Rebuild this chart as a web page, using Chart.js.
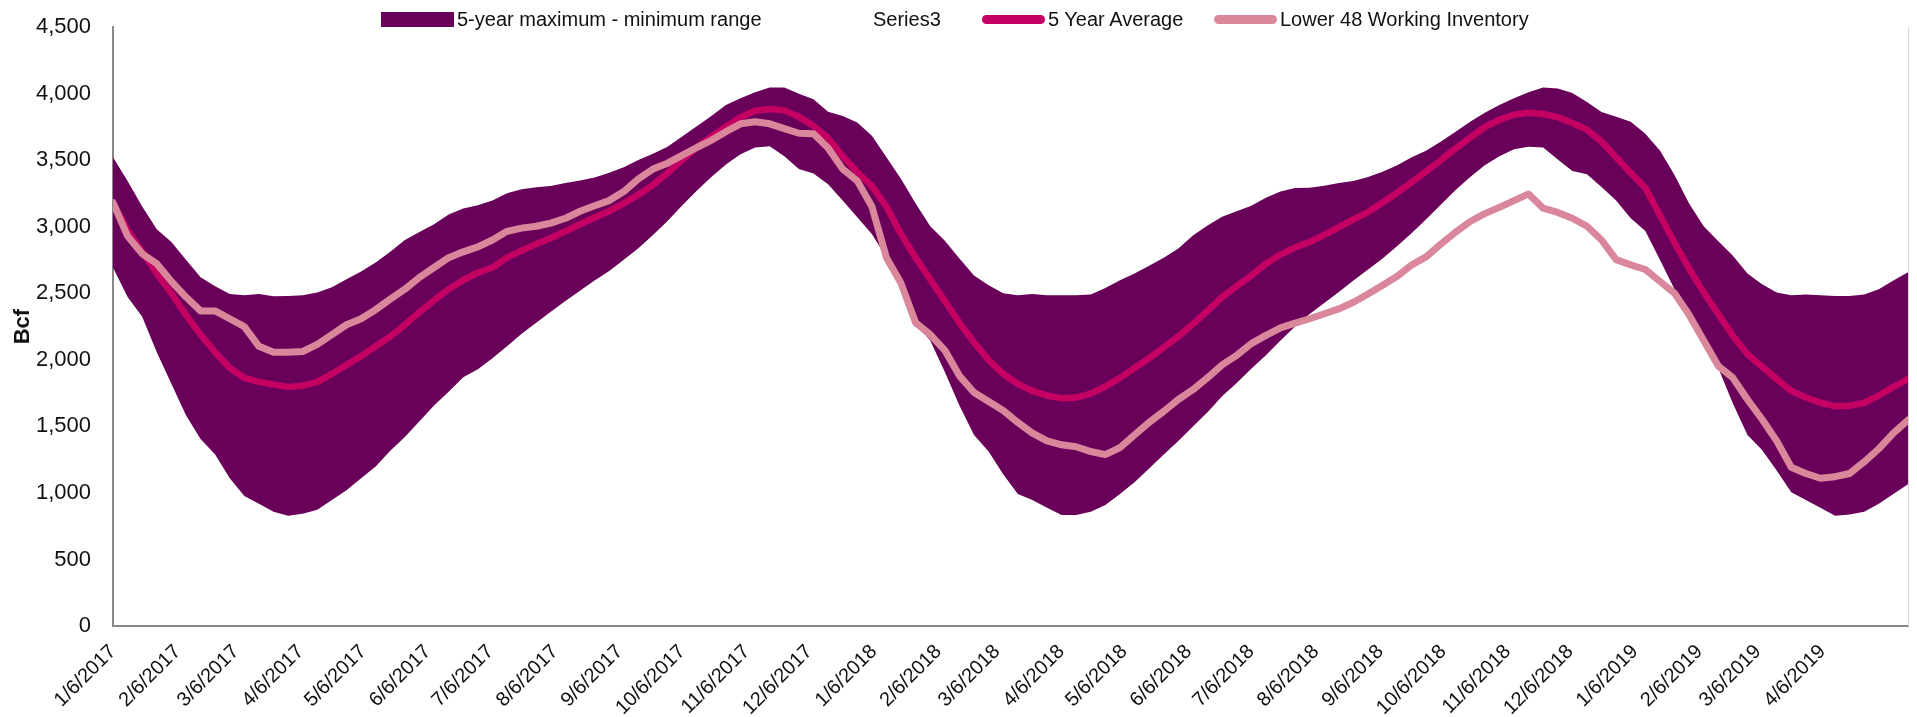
<!DOCTYPE html>
<html>
<head>
<meta charset="utf-8">
<script src="https://cdn.jsdelivr.net/npm/chart.js@4.4.1/dist/chart.umd.min.js"></script>
<style>
  body { margin: 0; background: #fff; }
  #wrap { position: relative; width: 1917px; height: 717px; }
  #legend { position: absolute; top: 0; left: 0; font: 20px 'Liberation Sans', Arial, sans-serif; color: #111; }
  #legend .item { position: absolute; top: 7px; display: flex; align-items: center; white-space: nowrap; height: 24px; }
  #legend .sw { width: 63px; margin-right: 3px; }
</style>
</head>
<body>
<div id="wrap">
  <canvas id="chart" width="1917" height="717"></canvas>
  <div id="legend"></div>
</div>
<script>
// weekly storage, Bcf, first week ending 1/6/2017
const rangeMax = [
  3522, 3345, 3152, 2981, 2886, 2753, 2620, 2554, 2495, 2486, 2495, 2478, 2480, 2486, 2507, 2546,
  2605, 2664, 2732, 2812, 2901, 2960, 3019, 3093, 3138, 3162, 3197, 3253, 3283, 3297, 3306, 3330,
  3348, 3371, 3407, 3448, 3502, 3549, 3602, 3679, 3756, 3833, 3916, 3966, 4011, 4046, 4046, 3999,
  3958, 3865, 3833, 3783, 3685, 3522, 3360, 3176, 3004, 2895, 2762, 2634, 2560, 2501, 2486, 2495,
  2486, 2486, 2486, 2492, 2540, 2599, 2649, 2708, 2768, 2836, 2935, 3010, 3075, 3117, 3158, 3218,
  3265, 3292, 3294, 3309, 3330, 3345, 3374, 3413, 3463, 3522, 3573, 3641, 3715, 3789, 3857, 3916,
  3966, 4011, 4046, 4040, 4005, 3937, 3863, 3827, 3789, 3700, 3573, 3389, 3176, 3004, 2892, 2782,
  2649, 2569, 2507, 2486, 2492, 2486, 2480, 2480, 2492, 2531, 2596, 2658
];
const rangeMin = [
  2694, 2472, 2324, 2057, 1820, 1584, 1406, 1288, 1110, 977, 918, 858, 829, 844, 873, 947,
  1021, 1110, 1199, 1317, 1421, 1539, 1658, 1761, 1870, 1930, 2013, 2102, 2196, 2279, 2362, 2442,
  2519, 2596, 2667, 2753, 2839, 2939, 3043, 3161, 3271, 3374, 3469, 3546, 3596, 3605, 3531, 3434,
  3401, 3320, 3197, 3072, 2945, 2768, 2516, 2270, 2146, 1909, 1658, 1436, 1311, 1140, 992, 947,
  888, 835, 835, 858, 909, 992, 1080, 1184, 1288, 1391, 1500, 1607, 1726, 1826, 1933, 2034,
  2146, 2250, 2344, 2427, 2510, 2596, 2679, 2762, 2856, 2954, 3058, 3167, 3277, 3374, 3463, 3531,
  3582, 3602, 3596, 3505, 3419, 3395, 3300, 3197, 3064, 2969, 2753, 2531, 2383, 2176, 1939, 1672,
  1436, 1323, 1169, 1006, 947, 888, 829, 838, 858, 918, 992, 1066
];
const fiveYearAvg = [
  3182, 2975, 2812, 2649, 2501, 2338, 2190, 2057, 1939, 1865, 1835, 1814, 1797, 1806, 1835, 1894,
  1962, 2028, 2102, 2176, 2264, 2359, 2448, 2531, 2600, 2655, 2694, 2768, 2821, 2871, 2916, 2966,
  3019, 3070, 3117, 3176, 3241, 3315, 3404, 3502, 3596, 3679, 3753, 3824, 3872, 3886, 3875, 3827,
  3759, 3665, 3531, 3410, 3306, 3152, 2945, 2768, 2605, 2442, 2279, 2131, 1998, 1894, 1820, 1767,
  1732, 1711, 1717, 1746, 1800, 1865, 1939, 2013, 2093, 2176, 2270, 2368, 2472, 2554, 2634, 2723,
  2791, 2845, 2886, 2939, 2998, 3055, 3111, 3182, 3256, 3336, 3419, 3502, 3590, 3670, 3750, 3804,
  3842, 3857, 3848, 3824, 3780, 3730, 3641, 3522, 3404, 3294, 3087, 2880, 2685, 2507, 2344, 2182,
  2042, 1948, 1856, 1767, 1717, 1678, 1652, 1655, 1678, 1732, 1797, 1856
];
const inventory = [
  3182, 2930, 2797, 2723, 2590, 2472, 2368, 2368, 2309, 2250, 2102, 2057, 2057, 2063, 2116, 2190,
  2264, 2309, 2377, 2457, 2531, 2620, 2694, 2768, 2812, 2849, 2901, 2966, 2990, 3004, 3028, 3064,
  3117, 3158, 3197, 3265, 3360, 3434, 3478, 3537, 3596, 3650, 3715, 3774, 3789, 3774, 3738, 3703,
  3700, 3593, 3434, 3345, 3152, 2768, 2575, 2279, 2190, 2072, 1880, 1755, 1687, 1619, 1530, 1450,
  1391, 1362, 1347, 1311, 1288, 1341, 1436, 1530, 1613, 1702, 1776, 1865, 1962, 2034, 2122, 2184,
  2241, 2276, 2309, 2347, 2383, 2433, 2495, 2560, 2628, 2714, 2776, 2871, 2960, 3040, 3099, 3146,
  3197, 3247, 3140, 3108, 3064, 3004, 2901, 2753, 2714, 2679, 2590, 2501, 2338, 2146, 1954, 1865,
  1702, 1554, 1391, 1193, 1146, 1110, 1122, 1146, 1234, 1332, 1450, 1548
];
const tickLabels = [
  '1/6/2017', '2/6/2017', '3/6/2017', '4/6/2017', '5/6/2017', '6/6/2017', '7/6/2017',
  '8/6/2017', '9/6/2017', '10/6/2017', '11/6/2017', '12/6/2017', '1/6/2018', '2/6/2018',
  '3/6/2018', '4/6/2018', '5/6/2018', '6/6/2018', '7/6/2018', '8/6/2018', '9/6/2018',
  '10/6/2018', '11/6/2018', '12/6/2018', '1/6/2019', '2/6/2019', '3/6/2019', '4/6/2019'
];
const yTicks = [0, 500, 1000, 1500, 2000, 2500, 3000, 3500, 4000, 4500];

// x is days since the first week; weeks are 7 days apart
const firstDay = Date.UTC(2017, 0, 6);
const dayOf = (s) => {
  const [m, d, y] = s.split('/').map(Number);
  return (Date.UTC(y, m - 1, d) - firstDay) / 864e5;
};
const tickDays = tickLabels.map(dayOf);
const weekDays = inventory.map((_, i) => i * 7);
const pts = (arr) => arr.map((v, i) => ({ x: weekDays[i], y: v }));

const FONT = "'Liberation Sans', Arial, sans-serif";
const PURPLE = '#69005a';
const MAGENTA = '#c50063';
const PINK = '#da879c';

// item left edges for the html legend
const legendLeft = [381, 807, 982, 1214];

const htmlLegend = {
  id: 'htmlLegend',
  afterUpdate(chart) {
    const box = document.getElementById('legend');
    box.innerHTML = '';
    chart.data.datasets.forEach((ds, i) => {
      const item = document.createElement('div');
      item.className = 'item';
      item.style.left = legendLeft[i] + 'px';
      const sw = document.createElement('span');
      sw.className = 'sw';
      if (ds.legendSwatch === 'box') {
        sw.style.width = '73px';
        sw.style.height = '15px';
        sw.style.background = ds.backgroundColor;
      } else if (ds.legendSwatch === 'line') {
        sw.style.height = '9px';
        sw.style.borderRadius = '5px';
        sw.style.background = ds.borderColor;
      } else {
        sw.style.height = '15px';
      }
      item.appendChild(sw);
      item.appendChild(document.createTextNode(ds.label));
      box.appendChild(item);
    });
  }
};

const rightEdge = {
  id: 'rightEdge',
  afterDraw(chart) {
    const { ctx, chartArea } = chart;
    ctx.save();
    ctx.strokeStyle = '#ddd3dc';
    ctx.lineWidth = 1;
    ctx.beginPath();
    ctx.moveTo(chartArea.right + 0.5, chartArea.top);
    ctx.lineTo(chartArea.right + 0.5, chartArea.bottom);
    ctx.stroke();
    ctx.restore();
  }
};

new Chart(document.getElementById('chart'), {
  type: 'line',
  data: {
    datasets: [
      {
        label: '5-year maximum - minimum range',
        data: pts(rangeMax),
        fill: '+1',
        backgroundColor: PURPLE,
        borderWidth: 0,
        pointRadius: 0,
        order: 3,
        legendSwatch: 'box',
      },
      {
        label: 'Series3',
        data: pts(rangeMin),
        fill: false,
        borderWidth: 0,
        borderColor: 'rgba(0,0,0,0)',
        pointRadius: 0,
        order: 2,
        legendSwatch: 'none',
      },
      {
        label: '5 Year Average',
        data: pts(fiveYearAvg),
        borderColor: MAGENTA,
        borderWidth: 6.5,
        borderJoinStyle: 'round',
        borderCapStyle: 'round',
        pointRadius: 0,
        fill: false,
        order: 1,
        legendSwatch: 'line',
      },
      {
        label: 'Lower 48 Working Inventory',
        data: pts(inventory),
        borderColor: PINK,
        borderWidth: 7,
        borderJoinStyle: 'round',
        borderCapStyle: 'round',
        pointRadius: 0,
        fill: false,
        order: 0,
        legendSwatch: 'line',
      },
    ],
  },
  options: {
    responsive: false,
    animation: false,
    devicePixelRatio: 1,
    layout: {
      padding: { top: 20, right: 9, bottom: 0, left: 0 },
    },
    scales: {
      x: {
        type: 'linear',
        min: 0,
        max: weekDays[weekDays.length - 1],
        afterBuildTicks: (axis) => {
          axis.ticks = tickDays.map((v) => ({ value: v }));
        },
        afterFit: (scale) => {
          scale.height = 91;
        },
        border: {
          display: true,
          color: '#888888',
          width: 2,
        },
        grid: {
          display: false,
        },
        ticks: {
          autoSkip: false,
          minRotation: 45,
          maxRotation: 45,
          padding: 6,
          color: '#111',
          font: { family: FONT, size: 20 },
          callback: (value, index) => tickLabels[index],
        },
      },
      y: {
        min: 0,
        max: 4500,
        afterBuildTicks: (axis) => {
          axis.ticks = yTicks.map((v) => ({ value: v }));
        },
        afterFit: (scale) => {
          scale.width = 113;
        },
        border: {
          display: true,
          color: '#888888',
          width: 2,
        },
        grid: {
          display: false,
        },
        ticks: {
          padding: 14,
          color: '#111',
          font: { family: FONT, size: 22 },
          callback: (value) => value.toLocaleString('en-US'),
        },
        title: {
          display: true,
          text: 'Bcf',
          color: '#111',
          padding: { top: 10, bottom: 0 },
          font: { family: FONT, size: 22, weight: 'bold' },
        },
      },
    },
    plugins: {
      legend: {
        display: false,
      },
      tooltip: {
        enabled: false,
      },
    },
  },
  plugins: [htmlLegend, rightEdge],
});
</script>
</body>
</html>
